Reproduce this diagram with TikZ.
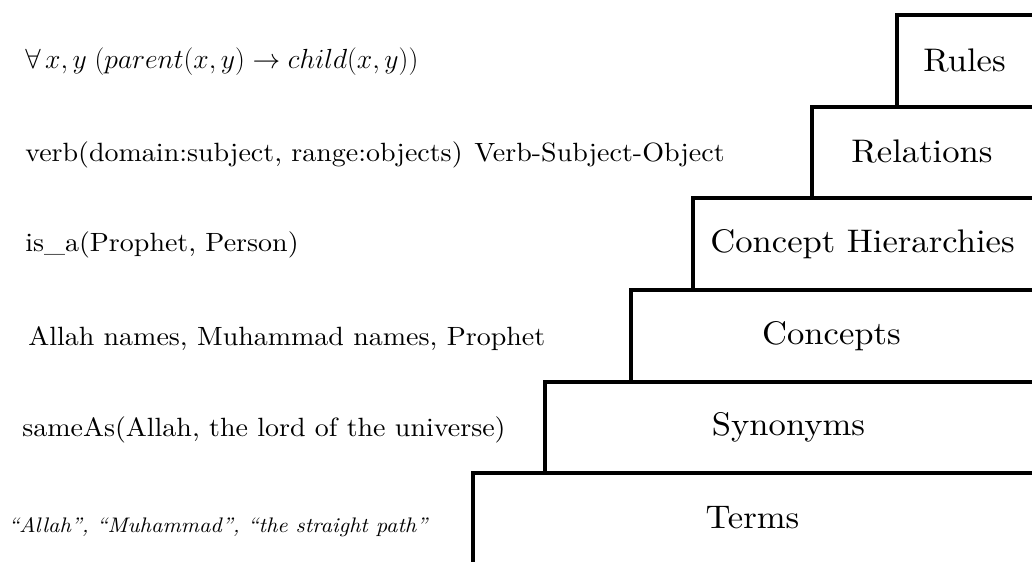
\documentclass[tikz,border=0pt]{standalone}
\usepackage{fontspec}
\setmainfont{lmroman10-regular.otf}[
  ItalicFont=lmroman10-italic.otf,
  BoldFont=lmroman10-bold.otf,
  FakeStretch=1.06]
\begin{document}
\begin{tikzpicture}[x=0.75pt,y=-0.75pt,
  stepline/.style={draw=black,line width=3.7pt,line join=miter},
  steplabel/.style={font=\fontsize{24.5}{29}\selectfont,inner sep=0pt},
  example/.style={font=\fontsize{19.8}{23}\selectfont,anchor=west,inner sep=0pt}]
  \useasboundingbox (0,0) rectangle (1032,561);
  \fill[white] (0,0) rectangle (1032,561);

  % staircase of layers, open to the right edge
  \begin{scope}
    \clip (0,0) rectangle (1032,561);
    \draw[stepline] (473,473) rectangle (1050,600);
    \draw[stepline] (545,382) rectangle (1050,473);
    \draw[stepline] (631,290) rectangle (1050,382);
    \draw[stepline] (693,198) rectangle (1050,290);
    \draw[stepline] (812,107) rectangle (1050,198);
    \draw[stepline] (897,15) rectangle (1050,107);
  \end{scope}

  % layer names
  \node[steplabel] (rules)     at (964.5,61)  {Rules};
  \node[steplabel] (relations) at (922,152)   {Relations};
  \node[steplabel] (hier)      at (862.5,244) {Concept Hierarchies};
  \node[steplabel] (concepts)  at (831.5,336) {Concepts};
  \node[steplabel] (synonyms)  at (788.5,427) {Synonyms};
  \node[steplabel] (terms)     at (752.5,518) {Terms};

  % examples for each layer
  \node[example,font=\fontsize{21}{25}\selectfont] (exrules) at (25,62)
    {$\forall\,x,y\;(parent(x,y)\rightarrow child(x,y))$};
  \node[example] (exrel) at (25,155) {verb(domain:subject, range:objects)};
  \node[example] (exvso) at (474,155) {Verb-Subject-Object};
  \node[example] (exhier) at (25,245) {is\_a(Prophet, Person)};
  \node[example] (exconc) at (28,339) {Allah names, Muhammad names, Prophet};
  \node[example] (exsyn) at (22,430) {sameAs(Allah, the lord of the universe)};
  \node[example,font=\fontsize{15.8}{19}\selectfont\itshape] (exterms) at (8,527)
    {“Allah”, “Muhammad”, “the straight path”};
\end{tikzpicture}
\end{document}
